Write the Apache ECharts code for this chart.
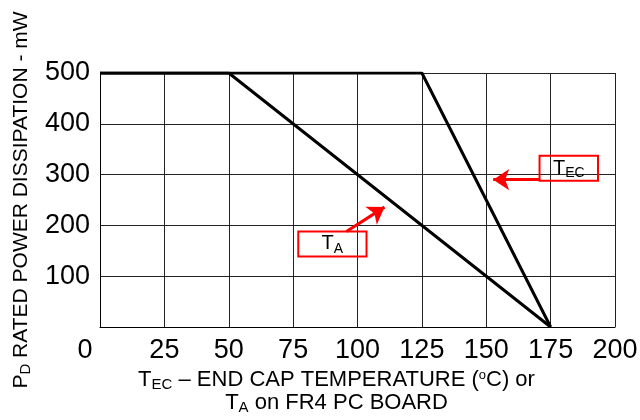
<!DOCTYPE html>
<html>
<head>
<meta charset="utf-8">
<script src="https://cdn.jsdelivr.net/npm/echarts@6/dist/echarts.min.js"></script>
<style>
html,body{margin:0;padding:0;background:#fff;}
#chart{width:640px;height:420px;}
</style>
</head>
<body>
<div id="chart"></div>
<script>
// Derating curves (temperature °C, power mW)
var tempTA = [0, 50, 175];
var powerTA = [500, 500, 0];
var tempTEC = [0, 125, 175];
var powerTEC = [500, 500, 0];

// Annotation boxes and arrows (data units)
var boxTEC = [[170.7, 337], [193.4, 288]];
var arrowTEC = [[170.7, 290], [152.7, 290]];
var boxTA = [[77, 188], [103.5, 139]];
var arrowTA = [[95.7, 188], [110.5, 236]];

function pairs(xs, ys) { return xs.map(function (x, i) { return [x, ys[i]]; }); }

var FONT = '"Liberation Sans", Arial, sans-serif';
var richX = {
  n: { fontSize: 22, lineHeight: 23, fontFamily: FONT, color: '#000', verticalAlign: 'middle' },
  s: { fontSize: 15, lineHeight: 14, fontFamily: FONT, color: '#000', verticalAlign: 'bottom' },
  p: { fontSize: 13, lineHeight: 12, fontFamily: FONT, color: '#000', verticalAlign: 'top' }
};
var richY = {
  n: { fontSize: 21, lineHeight: 24, fontFamily: FONT, color: '#000', verticalAlign: 'middle' },
  s: { fontSize: 15, lineHeight: 14, fontFamily: FONT, color: '#000', verticalAlign: 'bottom' }
};
var richBox = {
  n: { fontSize: 20, lineHeight: 24, fontFamily: FONT, color: '#000', verticalAlign: 'middle' },
  s: { fontSize: 14, lineHeight: 13, fontFamily: FONT, color: '#000', verticalAlign: 'bottom' }
};

var chart = echarts.init(document.getElementById('chart'));
chart.setOption({
  animation: false,
  grid: { left: 100, right: 25, top: 73, bottom: 93, show: false, outerBoundsMode: 'none', containLabel: false },
  xAxis: {
    type: 'value', min: 0, max: 200, interval: 25,
    name: '{n|T}{s|EC}{n| – END CAP TEMPERATURE (}{p|o}{n|C) or}\n{n|T}{s|A}{n| on FR4 PC BOARD}',
    nameLocation: 'middle', nameGap: 40,
    nameTextStyle: { rich: richX, padding: [0, 42, 0, 0] },
    axisLine: { show: true, lineStyle: { color: '#000', width: 1 } },
    axisTick: { show: false },
    splitLine: { show: true, lineStyle: { color: '#222', width: 1 } },
    axisLabel: {
      fontSize: 27, fontFamily: FONT, color: '#000', margin: 10,
      formatter: function (v) { return v === 0 ? '{z|0}' : String(v); },
      rich: { z: { fontSize: 27, fontFamily: FONT, color: '#000', padding: [0, 30, 0, 0] } }
    }
  },
  yAxis: {
    type: 'value', min: 0, max: 500, interval: 100,
    name: '{n|P}{s|D}{n| RATED POWER DISSIPATION - mW}',
    nameLocation: 'middle', nameGap: 67, nameRotate: 90,
    nameTextStyle: { rich: richY },
    axisLine: { show: true, lineStyle: { color: '#000', width: 1 } },
    axisTick: { show: false },
    splitLine: { show: true, lineStyle: { color: '#222', width: 1 } },
    axisLabel: {
      fontSize: 27, fontFamily: FONT, color: '#000', margin: 10,
      formatter: function (v) { return v === 0 ? '' : String(v); }
    }
  },
  series: [
    {
      name: 'TA', type: 'line', data: pairs(tempTA, powerTA), symbol: 'none',
      lineStyle: { color: '#000', width: 3 }, z: 3,
      markLine: {
        silent: true, symbol: ['none', 'arrow'], symbolSize: 16,
        lineStyle: { color: '#f00', width: 3, type: 'solid' },
        label: { show: false },
        data: [[{ coord: arrowTA[0] }, { coord: arrowTA[1] }]]
      },
      markArea: {
        silent: true,
        itemStyle: { color: 'rgba(0,0,0,0)', borderColor: '#f00', borderWidth: 2 },
        label: { show: true, position: 'inside', formatter: '{n|T}{s|A}', rich: richBox },
        data: [[{ coord: boxTA[0] }, { coord: boxTA[1] }]]
      }
    },
    {
      name: 'TEC', type: 'line', data: pairs(tempTEC, powerTEC), symbol: 'none',
      lineStyle: { color: '#000', width: 3 }, z: 3,
      markLine: {
        silent: true, symbol: ['none', 'arrow'], symbolSize: 16,
        lineStyle: { color: '#f00', width: 3, type: 'solid' },
        label: { show: false },
        data: [[{ coord: arrowTEC[0] }, { coord: arrowTEC[1] }]]
      },
      markArea: {
        silent: true,
        itemStyle: { color: 'rgba(0,0,0,0)', borderColor: '#f00', borderWidth: 2 },
        label: { show: true, position: 'inside', formatter: '{n|T}{s|EC}', rich: richBox },
        data: [[{ coord: boxTEC[0] }, { coord: boxTEC[1] }]]
      }
    }
  ]
});
</script>
</body>
</html>
